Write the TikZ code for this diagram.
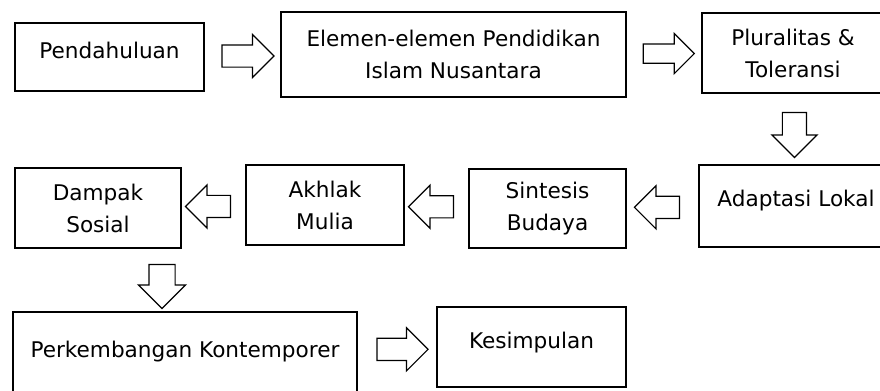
\documentclass[tikz,border=0pt]{standalone}
\usepackage{fontspec}
\newfontfamily\boxfont{DejaVu Sans}
\usetikzlibrary{shapes.arrows}

\begin{document}
\begin{tikzpicture}[
        x=0.5pt, y=-0.5pt,
        box/.style={rectangle, draw, line width=0.7pt, inner sep=0pt, align=center, font={\boxfont\fontsize{10.8}{16}\selectfont}},
        oneline/.style={text depth=#1},
        oneline/.default=7pt,
        hollow/.style={single arrow, draw, line width=0.6pt, inner xsep=0pt, inner ysep=5.25pt, minimum height=24pt, single arrow head extend=5.25pt}
    ]
        \useasboundingbox (0,0) rectangle (880,391);
        \clip (0,0) rectangle (880,391);

        % Top row
        \node[box, oneline, minimum width=94.5pt, minimum height=34pt] (intro) at (109.5,57) {Pendahuluan};
        \node[box, minimum width=172.5pt, minimum height=42.5pt] (elem) at (453.5,54.5) {Elemen-elemen Pendidikan\\Islam Nusantara};
        \node[box, minimum width=91pt, minimum height=40pt] (plural) at (793,53) {Pluralitas \&\\Toleransi};

        % Middle row
        \node[box, oneline=8pt, minimum width=97pt, minimum height=41pt] (adapt) at (796,206) {Adaptasi Lokal};
        \node[box, minimum width=78.5pt, minimum height=39.5pt] (sintesis) at (547.5,208.5) {Sintesis\\Budaya};
        \node[box, minimum width=79pt, minimum height=40pt] (akhlak) at (325,205) {Akhlak\\Mulia};
        \node[box, minimum width=83pt, minimum height=40pt] (dampak) at (98,208) {Dampak\\Sosial};

        % Bottom row
        \node[box, oneline=3.5pt, minimum width=172pt, minimum height=41pt] (perk) at (185,353) {Perkembangan Kontemporer};
        \node[box, oneline, minimum width=94.5pt, minimum height=40pt] (kes) at (531.5,347) {Kesimpulan};

        % Block arrows between the boxes
        \path (intro) -- node[hollow, minimum height=26pt] (a1) {} (elem);
        \path (elem) -- node[hollow, inner ysep=4.5pt, minimum height=25.5pt] (a2) {} (plural);
        \path (plural) -- node[hollow, rotate=-90, inner ysep=5.75pt, minimum height=22.5pt] (a3) {} (adapt);
        \path (adapt) -- node[hollow, rotate=180, minimum height=22.5pt] (a4) {} (sintesis);
        \path (sintesis) -- node[hollow, rotate=180, minimum height=22.5pt] (a5) {} (akhlak);
        \path (akhlak) -- node[hollow, rotate=180, minimum height=22.5pt] (a6) {} (dampak);
        \path ([xshift=32pt]dampak.south) -- ([xshift=32pt]dampak.south |- perk.north) node[midway, hollow, rotate=-90, inner ysep=6.25pt, minimum height=22pt] (a7) {};
        \path (perk) -- node[hollow, minimum height=25.5pt] (a8) {} (kes);
\end{tikzpicture}
\end{document}
